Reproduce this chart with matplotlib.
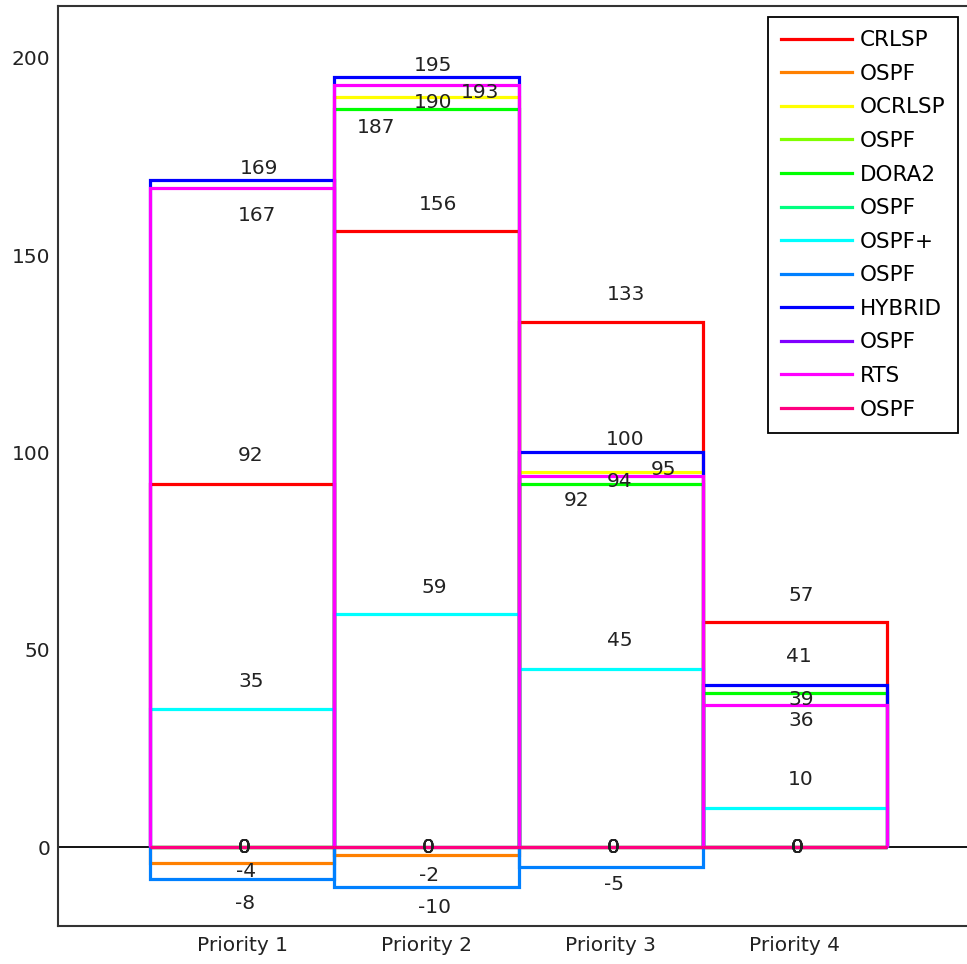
import matplotlib.pyplot as plt

plt.rcParams['font.family'] = ['DejaVu Sans']

priorities = ["Priority 1", "Priority 2", "Priority 3", "Priority 4"]
series_names = ["CRLSP", "OSPF", "OCRLSP", "OSPF", "DORA2", "OSPF",
                "OSPF+", "OSPF", "HYBRID", "OSPF", "RTS", "OSPF"]

crlsp = [92, 156, 133, 57]
ospf_a = [-4, -2, 0, 0]
ocrlsp = [0, 190, 95, 0]
ospf_b = [0, 0, 0, 0]
dora2 = [0, 187, 92, 39]
ospf_c = [0, 0, 0, 0]
ospf_plus = [35, 59, 45, 10]
ospf_d = [-8, -10, -5, 0]
hybrid = [169, 195, 100, 41]
ospf_e = [0, 0, 0, 0]
rts = [167, 193, 94, 36]
ospf_f = [0, 0, 0, 0]

series = [crlsp, ospf_a, ocrlsp, ospf_b, dora2, ospf_c,
          ospf_plus, ospf_d, hybrid, ospf_e, rts, ospf_f]
colors = ["#ff0000", "#ff8000", "#ffff00", "#80ff00", "#00ff00", "#00ff80",
          "#00ffff", "#0080ff", "#0000ff", "#8000ff", "#ff00ff", "#ff0080"]

# label nudges in pixels (dx, dy), keyed by (series, priority)
nudge = {
    (8, 0): (17, 12), (10, 0): (15, -28),
    (0, 0): (8, 28), (6, 0): (9, 27), (1, 0): (4, -9), (7, 0): (3, -25),
    (8, 1): (7, 12), (10, 1): (54, -7), (2, 1): (7, -5), (4, 1): (-50, -18),
    (0, 1): (12, 27), (6, 1): (8, 27), (1, 1): (3, -21), (7, 1): (8, -21),
    (0, 2): (15, 28), (8, 2): (15, 13), (2, 2): (53, 3), (10, 2): (9, -5),
    (4, 2): (-34, -17), (6, 2): (9, 29), (7, 2): (3, -18),
    (0, 3): (6, 27), (8, 3): (4, 29), (4, 3): (6, -6), (10, 3): (6, -16),
    (6, 3): (6, 28),
}

W, H = 967, 964
fig = plt.figure(figsize=(W / 100, H / 100), dpi=100)
ax = fig.add_axes([58 / W, (H - 926) / H, (979 - 58) / W, (926 - 6) / H])

ax.axhline(0, color="black", lw=1.3, zorder=1)
for i, (vals, c, name) in enumerate(zip(series, colors, series_names)):
    for j, v in enumerate(vals):
        # each bar is an open outline standing on zero
        ax.stairs([v], [j + 0.5, j + 1.5], baseline=0, color=c, lw=2.3,
                  label=name if j == 0 else None, zorder=2 + i * 0.01)
        dx, dy = nudge.get((i, j), (2, 0) if v == 0 else ((8, 28) if v > 0 else (4, -21)))
        ax.annotate(str(v), xy=(j + 1, v), xytext=(dx, dy), textcoords="offset pixels",
                    ha="center", va="center", fontsize=14.5, color="#222222", zorder=5)

ax.set_xlim(0, 5)
ax.set_ylim(-20, 213.1)
ax.set_xticks(range(1, len(priorities) + 1))
ax.set_xticklabels(priorities)
ax.set_yticks([0, 50, 100, 150, 200])
ax.tick_params(length=0, labelsize=14.5, colors="#222222")
ax.tick_params(axis="y", pad=5.5)
ax.tick_params(axis="x", pad=7)
for s in ["left", "top", "bottom"]:
    ax.spines[s].set_linewidth(1.5)
    ax.spines[s].set_color("#333333")
ax.spines["right"].set_visible(False)

leg = ax.legend(loc="upper left", bbox_to_anchor=((768 - 58) / (979 - 58), 1 - 11 / 920),
                fontsize=15.5, frameon=True, fancybox=False, framealpha=1,
                handlelength=3.26, handletextpad=0.37, labelspacing=0.63,
                borderpad=0.62, borderaxespad=0)
leg.get_frame().set_edgecolor("black")
leg.get_frame().set_linewidth(1.3)

fig.savefig("out.png", dpi=100)
